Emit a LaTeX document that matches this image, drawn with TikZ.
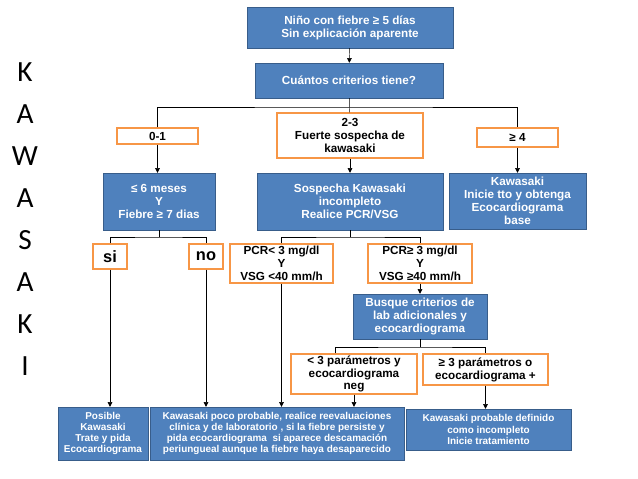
\documentclass[tikz,border=0pt]{standalone}
\usepackage{fontspec}
\setmainfont{Liberation Sans}
\newfontfamily\sidefont{Carlito}
\usetikzlibrary{arrows.meta,positioning}
\definecolor{boxblue}{HTML}{4F81BD}
\definecolor{boxedge}{HTML}{385D8A}
\definecolor{boxorange}{HTML}{F79646}
\newdimen\px \px=0.03cm

\begin{document}
\begin{tikzpicture}[
  x=0.03cm, y=-0.03cm,
  sz/.style 2 args={minimum width=#1\px, minimum height=#2\px},
  bluebox/.style={rectangle, draw=boxedge, fill=boxblue, text=white, align=center, inner sep=1pt, font=\fontsize{10}{11}\selectfont\bfseries},
  orbox/.style={rectangle, draw=boxorange, line width=1.2pt, fill=white, align=center, inner sep=1pt, font=\fontsize{10}{11}\selectfont\bfseries},
  lowtext/.style={font=\fontsize{8.5}{9.6}\selectfont\bfseries},
  bigtext/.style={font=\fontsize{14}{16}\selectfont\bfseries},
  letter/.style={font=\fontsize{25}{28}\sidefont},
  arr/.style={-{Triangle[length=4pt,width=4pt]}, thin}
]
\useasboundingbox (0,0) rectangle (638,479);

% side title
\foreach \l [count=\i] in {K,A,W,A,S,A,K,I}
  \node[letter] (side\i) at (25,72+42*\i-42) {\l};

\node[bluebox, sz={206}{41}] (nino) at (350,27.5) {Niño con fiebre ≥ 5 días\\Sin explicación aparente};
\node[bluebox, sz={188}{35}] (crit) at (349,80.5) {Cuántos criterios tiene?};

\node[orbox, sz={81}{16}] (c01) at (157.5,136) {0-1};
\node[orbox, sz={146}{45}] (c23) at (350,135.5) {2-3\\Fuerte sospecha de\\kawasaki};
\node[orbox, sz={81}{19}] (c4) at (517.5,137.5) {≥ 4};

\node[bluebox, sz={112}{57}] (meses) at (159,201.5) {≤ 6 meses\\Y\\Fiebre ≥ 7 dias};
\node[bluebox, sz={186}{57}] (sosp) at (350,201.5) {Sospecha Kawasaki\\incompleto\\Realice PCR/VSG};
\node[bluebox, sz={137}{56}] (kini) at (517.5,201) {Kawasaki\\Inicie tto y obtenga\\Ecocardiograma\\base};

\node[orbox, bigtext, sz={34}{25}] (si) at (110,256.5) {si};
\node[orbox, bigtext, sz={34}{25}] (no) at (206,256.5) {no};
\node[orbox, sz={103}{39}] (pcrlo) at (281.5,263.5) {PCR< 3 mg/dl\\Y\\VSG <40 mm/h};
\node[orbox, sz={104}{39}] (pcrhi) at (420,263.5) {PCR≥ 3 mg/dl\\Y\\VSG ≥40 mm/h};

\node[bluebox, sz={134}{45}] (busq) at (420,316.5) {Busque criterios de\\lab adicionales y\\ecocardiograma};
\node[orbox, sz={126}{40}] (menos) at (354,374) {< 3 parámetros y\\ecocardiograma\\neg};
\node[orbox, sz={125}{31}] (mas) at (485.5,369.5) {≥ 3 parámetros o\\ecocardiograma +};

\node[bluebox, lowtext, sz={90}{53}] (posible) at (103,433.5) {Posible\\Kawasaki\\Trate y pida\\Ecocardiograma};
\node[bluebox, lowtext, sz={254}{53}] (poco) at (277,433.5) {Kawasaki poco probable, realice reevaluaciones\\clínica y de laboratorio , si la fiebre persiste y\\pida ecocardiograma~ si aparece descamación\\periungueal aunque la fiebre haya desaparecido};
\node[bluebox, lowtext, sz={165}{41}] (prob) at (488.5,429.5) {Kawasaki probable definido\\como incompleto\\Inicie tratamiento};

% junctions
\coordinate (j1) at (350,107);
\coordinate (j2) at (159,237);
\coordinate (j3) at (350,237);
\coordinate (j4) at (420,347);

\draw[arr] (nino) -- (crit);
\draw (crit) -- (c23);
\draw (c01.north) |- (j1) -| (c4.north);
\draw[arr] (c01.south) -- (c01.south |- meses.north);
\draw[arr] (c23) -- (sosp);
\draw[arr] (c4) -- (kini);

\draw (meses.south) -- (j2);
\draw (si.north) |- (j2) -| (no.north);
\draw (sosp.south) -- (j3);
\draw (pcrlo.north) |- (j3) -| (pcrhi.north);
\draw[arr] (pcrhi) -- (busq);
\draw (busq.south) -- (j4);
\draw ([xshift=-19\px]menos.north) |- (j4) -| (mas.north);

\draw[arr] (si.south) -- (si.south |- posible.north);
\draw[arr] (no.south) -- (no.south |- poco.north);
\draw[arr] (pcrlo.south) -- (pcrlo.south |- poco.north);
\draw[arr] (menos.south) -- (menos.south |- poco.north);
\draw[arr] (mas.south) -- (mas.south |- prob.north);
\end{tikzpicture}
\end{document}
